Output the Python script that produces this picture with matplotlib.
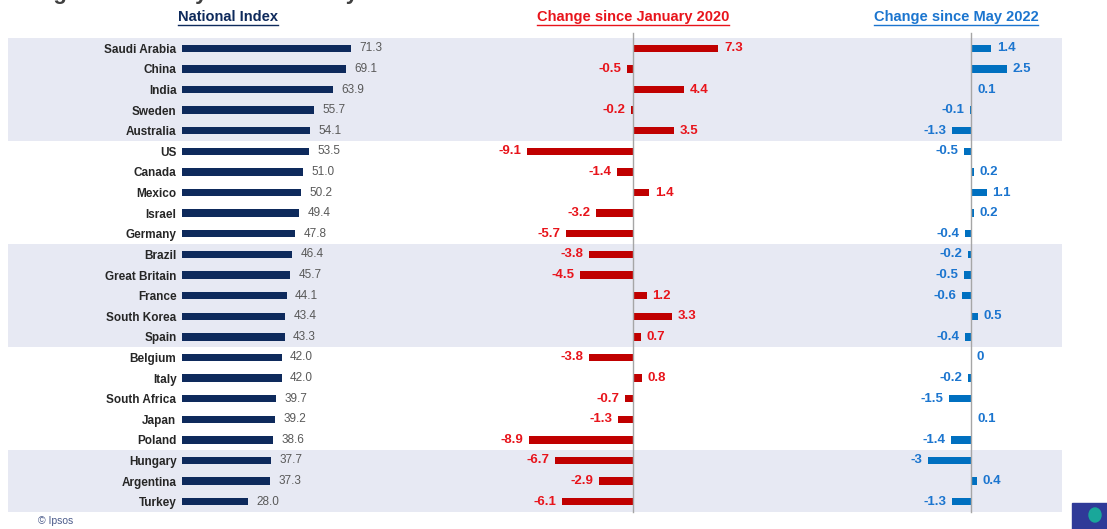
import matplotlib
matplotlib.use("Agg")
import matplotlib.pyplot as plt
from matplotlib.lines import Line2D
from matplotlib.patches import Rectangle, Ellipse

plt.rcParams['font.family'] = ['Liberation Sans', 'DejaVu Sans']

countries = ["Saudi Arabia", "China", "India", "Sweden", "Australia", "US", "Canada",
             "Mexico", "Israel", "Germany", "Brazil", "Great Britain", "France",
             "South Korea", "Spain", "Belgium", "Italy", "South Africa", "Japan",
             "Poland", "Hungary", "Argentina", "Turkey"]
national_index = [71.3, 69.1, 63.9, 55.7, 54.1, 53.5, 51.0, 50.2, 49.4, 47.8, 46.4, 45.7,
                  44.1, 43.4, 43.3, 42.0, 42.0, 39.7, 39.2, 38.6, 37.7, 37.3, 28.0]
change_jan2020 = [7.3, -0.5, 4.4, -0.2, 3.5, -9.1, -1.4, 1.4, -3.2, -5.7, -3.8, -4.5,
                  1.2, 3.3, 0.7, -3.8, 0.8, -0.7, -1.3, -8.9, -6.7, -2.9, -6.1]
change_may2022 = [1.4, 2.5, 0.1, -0.1, -1.3, -0.5, 0.2, 1.1, 0.2, -0.4, -0.2, -0.5,
                  -0.6, 0.5, -0.4, 0, -0.2, -1.5, 0.1, -1.4, -3, 0.4, -1.3]
shaded_groups = [(0, 4), (10, 14), (20, 22)]

W, H = 1107, 529
fig = plt.figure(figsize=(W / 100, H / 100), dpi=100)


def px_axes(x0, x1, y0, y1, **kw):
    return fig.add_axes([x0 / W, 1 - y1 / H, (x1 - x0) / W, (y1 - y0) / H], **kw)


n = len(countries)
ypos = list(range(n))
band_top, band_bot = 38, 512

# background bands
bg = px_axes(8, 1062, band_top, band_bot)
bg.set_xlim(0, 1)
bg.set_ylim(n - 0.5, -0.5)
for a, b in shaded_groups:
    bg.axhspan(a - 0.5, b + 0.5, color="#e7e9f3", lw=0)
bg.axis("off")

navy = "#0e2a5c"
red_bar = "#c00000"
red_txt = "#e8141b"
blue_bar = "#0070c0"
blue_txt = "#1b75cf"
bar_h = 0.36

# National Index
ax1 = px_axes(182, 419, band_top, band_bot)
ax1.patch.set_alpha(0)
b1 = ax1.barh(ypos, national_index, height=bar_h, color=navy)
ax1.bar_label(b1, labels=["%.1f" % v for v in national_index], padding=6,
              color="#595959", fontsize=8.5)
ax1.set_xlim(0, 100)
ax1.set_ylim(n - 0.5, -0.5)
ax1.set_yticks(ypos)
ax1.set_yticklabels(countries, fontsize=8.5, fontweight="bold", color="#262626")
ax1.tick_params(axis="y", length=0, pad=4)
ax1.set_xticks([])
for s in ax1.spines.values():
    s.set_visible(False)

# Change since January 2020
ax2 = px_axes(500, 766, band_top, band_bot)
ax2.patch.set_alpha(0)
b2 = ax2.barh(ypos, change_jan2020, height=bar_h, color=red_bar)
ax2.bar_label(b2, labels=["%g" % v for v in change_jan2020], padding=4,
              color=red_txt, fontsize=9.5, fontweight="bold")
ax2.set_xlim(-11.37, 11.37)
ax2.set_ylim(n - 0.5, -0.5)
ax2.axvline(0, color="#a6a6a6", lw=1, ymin=0, ymax=1.01, clip_on=False)
ax2.axis("off")

# Change since May 2022
ax3 = px_axes(900, 1042, band_top, band_bot)
ax3.patch.set_alpha(0)
b3 = ax3.barh(ypos, change_may2022, height=bar_h, color=blue_bar)
ax3.bar_label(b3, labels=["%g" % v for v in change_may2022], padding=4,
              color=blue_txt, fontsize=9.5, fontweight="bold")
ax3.set_xlim(-4.93, 4.93)
ax3.set_ylim(n - 0.5, -0.5)
ax3.axvline(0, color="#a6a6a6", lw=1, ymin=0, ymax=1.01, clip_on=False)
ax3.axis("off")

# headers with underline
headers = [("National Index", 228, navy), ("Change since January 2020", 633, red_txt),
           ("Change since May 2022", 956, blue_txt)]
fig.canvas.draw()
rend = fig.canvas.get_renderer()
for label, xc, col in headers:
    t = fig.text(xc / W, 1 - 17 / H, label, ha="center", va="center", fontsize=10.5,
                 fontweight="bold", color=col)
    bb = t.get_window_extent(renderer=rend)
    yline = bb.y0 - 1
    fig.add_artist(Line2D([bb.x0 / W, bb.x1 / W], [yline / H, yline / H],
                          color=col, lw=1))

# cut-off title at the very top
fig.text(-2 / W, 1 + 1 / H, "Change vs. January 2020 and May 2022", ha="left",
         va="baseline", fontsize=16, fontweight="bold", color="#404040")

fig.text(38 / W, 1 - 521 / H, "© Ipsos", ha="left", va="center", fontsize=7.5,
         color="#4a5a8a")

# logo block
fig.add_artist(Rectangle((1072 / W, 0), 35 / W, 26 / H, color="#2f3a98",
                         transform=fig.transFigure))
fig.add_artist(Ellipse((1095 / W, 14 / H), 12 / W, 14 / H, color="#19a79a",
                       transform=fig.transFigure))

fig.savefig("out.png", dpi=100)
